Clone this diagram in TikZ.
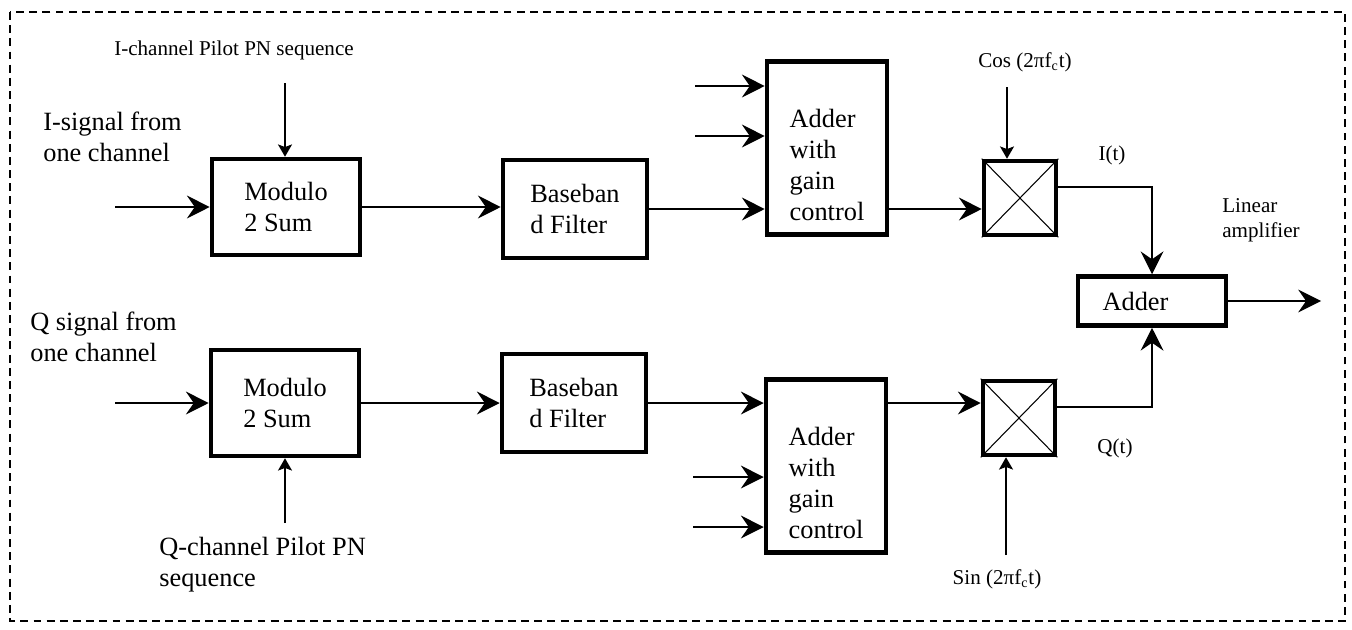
\documentclass[tikz,border=0pt]{standalone}
\usepackage{fontspec}
\setmainfont{Liberation Serif}
\usetikzlibrary{arrows.meta}

\newcommand{\DrawMixer}[2]{
    \node[mixbox] (#1) at (#2) {};
    \draw[line width=0.6pt] (#1.north west) -- (#1.south east);
    \draw[line width=0.6pt] (#1.north east) -- (#1.south west);
}

\begin{document}
\begin{tikzpicture}[
  x=0.02cm, y=-0.02cm,
  blk/.style={draw, line width=2.6pt, inner sep=0pt, align=left, font=\fontsize{15}{17.5}\selectfont},
  modbox/.style={blk, minimum width=2.96cm, minimum height=1.92cm},
  filterbox/.style={blk, minimum width=2.88cm, minimum height=1.96cm},
  gainbox/.style={blk, minimum width=2.4cm, minimum height=3.46cm},
  mixbox/.style={blk, minimum width=1.44cm, minimum height=1.48cm},
  sumbox/.style={blk, minimum width=2.96cm, minimum height=0.98cm},
  lbl/.style={align=left, inner sep=0pt, font=\fontsize{15}{17.5}\selectfont},
  smalltxt/.style={align=left, inner sep=0pt, font=\fontsize{12}{14}\selectfont},
  sig/.style={line width=0.8pt, -{Stealth[length=13pt, width=13pt, inset=4.5pt]}},
  pnarrow/.style={line width=0.8pt, -{Stealth[length=7pt, width=8pt, inset=1.5pt]}}
  ]
  \useasboundingbox (0,0) rectangle (1352,629);
  \draw[line width=0.7pt, dash pattern=on 4.5pt off 3pt] (10,12) rectangle (1345,621);

  % I branch
  \node[modbox] (mod1) at (286,207) {Modulo\\2 Sum};
  \node[filterbox] (bb1) at (575,209) {Baseban\\d Filter};
  \node[gainbox] (ag1) at (827,148) {};
  \node[lbl] (ag1txt) at ([yshift=-0.34cm]ag1.center) {Adder\\with\\gain\\control};
  \DrawMixer{mix1}{1020,198}

  % Q branch
  \node[modbox, minimum height=2.12cm] (mod2) at (285,403) {Modulo\\2 Sum};
  \node[filterbox] (bb2) at (574,403) {Baseban\\d Filter};
  \node[gainbox] (ag2) at (826,466) {};
  \node[lbl] (ag2txt) at ([yshift=-0.34cm]ag2.center) {Adder\\with\\gain\\control};
  \DrawMixer{mix2}{1019,418}

  \node[sumbox] (adder) at (1152,301) {Adder\hspace{0.66cm}};

  \coordinate (iin) at (115,207);
  \coordinate (qin) at (115,403);
  \coordinate (ipn) at (285,83);
  \coordinate (qpn) at (285,523);
  \coordinate (cos) at (1007,87);
  \coordinate (sin) at (1006,555);
  \coordinate (ga1) at (695,86);
  \coordinate (gb1) at (695,136);
  \coordinate (ga2) at (693,477);
  \coordinate (gb2) at (693,527);
  \coordinate (out) at (1321,301);

  \draw[sig] (iin) -- (mod1);
  \draw[sig] (mod1.east) -- (mod1.east -| bb1.west);
  \draw[sig] (bb1) -- (bb1 -| ag1.west);
  \draw[sig] (ga1) -- (ga1 -| ag1.west);
  \draw[sig] (gb1) -- (gb1 -| ag1.west);
  \draw[sig] (ag1.east |- bb1) -- (mix1.west |- bb1);
  \draw[pnarrow] (ipn) -- (ipn |- mod1.north);
  \draw[pnarrow] (cos) -- (cos |- mix1.north);
  \draw[sig] ([yshift=0.22cm]mix1.east) -| (adder.north);

  \draw[sig] (qin) -- (mod2);
  \draw[sig] (mod2) -- (bb2);
  \draw[sig] (bb2) -- (bb2 -| ag2.west);
  \draw[sig] (ga2) -- (ga2 -| ag2.west);
  \draw[sig] (gb2) -- (gb2 -| ag2.west);
  \draw[sig] (ag2.east |- bb2) -- (mix2.west |- bb2);
  \draw[pnarrow] (qpn) -- (qpn |- mod2.south);
  \draw[pnarrow] (sin) -- (sin |- mix2.south);
  \draw[sig] ([yshift=0.22cm]mix2.east) -| (adder.south);

  \draw[sig] (adder) -- (out);

  \node[smalltxt] (ipnlbl) at (234,50) {I-channel Pilot PN sequence};
  \node[lbl, anchor=west] (ilbl) at (43,137) {I-signal from\\one channel};
  \node[lbl, anchor=west] (qlbl) at (30,337) {Q signal from\\one channel};
  \node[lbl, anchor=west] (qpnlbl) at (159,565) {Q-channel Pilot PN\\sequence};
  \node[smalltxt] (coslbl) at (1025,62) {Cos (2πf\textsubscript{c}t)};
  \node[smalltxt] (sinlbl) at (997,579) {Sin (2πf\textsubscript{c}t)};
  \node[smalltxt] (itlbl) at (1112,155) {I(t)};
  \node[smalltxt] (qtlbl) at (1115,448) {Q(t)};
  \node[smalltxt, anchor=west] (linlbl) at (1222,220) {Linear\\amplifier};
\end{tikzpicture}
\end{document}
